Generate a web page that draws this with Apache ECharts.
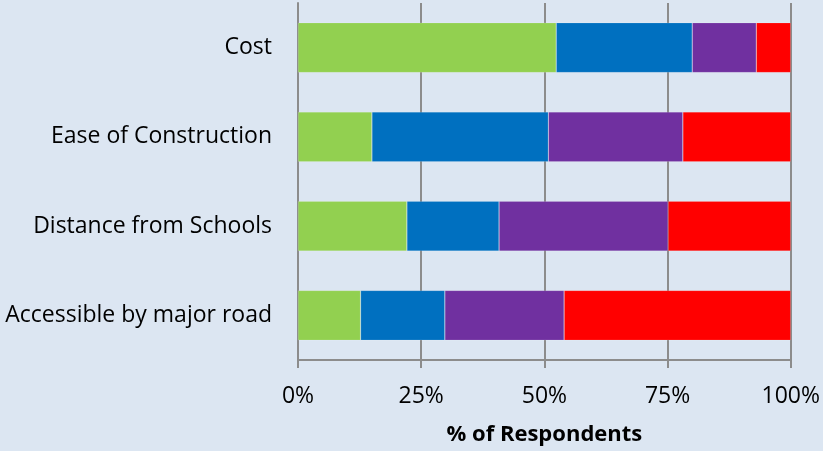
<!DOCTYPE html>
<html>
<head>
<meta charset="utf-8">
<script src="https://cdn.jsdelivr.net/npm/echarts@6/dist/echarts.min.js"></script>
<style>
  html, body { margin: 0; padding: 0; background: #dce6f2; }
  #chart { width: 823px; height: 451px; }
</style>
</head>
<body>
<div id="chart"></div>
<script>
// Survey factors, top to bottom
const categories = ['Cost', 'Ease of Construction', 'Distance from Schools', 'Accessible by major road'];

// Share of respondents (%) per rating band, one array per band
const bandGreen  = [52.4, 15.0, 22.1, 12.7];
const bandBlue   = [27.6, 35.8, 18.7, 17.1];
const bandPurple = [13.0, 27.3, 34.3, 24.2];
const bandRed    = [ 7.0, 21.9, 24.9, 46.0];

const axisTitle = '% of Respondents';

const chart = echarts.init(document.getElementById('chart'), null, { renderer: 'canvas' });

const gray = '#8c8c8c';
const font = '"Open Sans", sans-serif';

function band(data, color) {
  return {
    type: 'bar',
    stack: 'total',
    data: data,
    barCategoryGap: '44%',
    itemStyle: { color: color, borderColor: 'rgba(255,255,255,0.25)', borderWidth: 0.6 }
  };
}

chart.setOption({
  backgroundColor: '#dce6f2',
  animation: false,
  grid: { left: 298, right: 32, top: 3, bottom: 88 },
  xAxis: {
    type: 'value',
    min: 0,
    max: 100,
    interval: 25,
    name: axisTitle,
    nameLocation: 'middle',
    nameGap: 64,
    nameTextStyle: { fontFamily: font, fontSize: 22, fontWeight: 'bold', color: '#000' },
    axisLine: { show: true, lineStyle: { color: gray, width: 2 } },
    axisTick: { show: true, length: 8, lineStyle: { color: gray, width: 2 } },
    axisLabel: { formatter: '{value}%', margin: 25, fontFamily: font, fontSize: 23, color: '#000' },
    splitLine: { show: true, lineStyle: { color: gray, width: 2 } }
  },
  yAxis: {
    type: 'category',
    data: categories,
    inverse: true,
    axisLine: { show: true, lineStyle: { color: gray, width: 2 } },
    axisTick: { show: false },
    axisLabel: { margin: 26, padding: [5, 0, 0, 0], fontFamily: font, fontSize: 23, color: '#000' }
  },
  series: [
    band(bandGreen, '#92d050'),
    band(bandBlue, '#0070c0'),
    band(bandPurple, '#7030a0'),
    band(bandRed, '#ff0000')
  ]
});
</script>
</body>
</html>
